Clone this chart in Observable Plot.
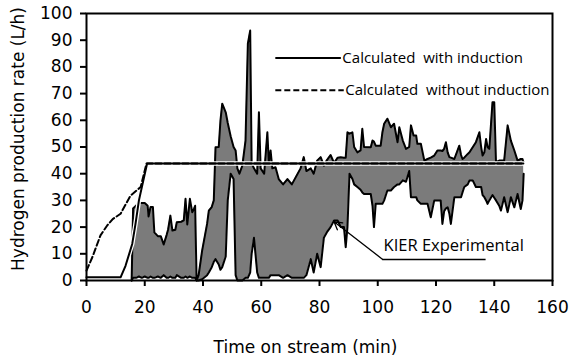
<!DOCTYPE html>
<html>
<head>
<meta charset="utf-8">
<script src="https://cdn.jsdelivr.net/npm/d3@7"></script>
<script src="https://cdn.jsdelivr.net/npm/@observablehq/plot@0.6"></script>
<style>
  html, body { margin: 0; padding: 0; background: white; }
</style>
</head>
<body>
<div id="chart"></div>
<script>
// ---- Data ----
const xTicks = [0, 20, 40, 60, 80, 100, 120, 140, 160];
const yTicks = [0, 10, 20, 30, 40, 50, 60, 70, 80, 90, 100];

// Calculated with induction (solid)
const withTime = [0, 11.7, 13.4, 15.7, 16.8, 18.0, 20.8, 150];
const withRate = [1.2, 1.2, 5.5, 13.7, 21, 30, 43.8, 43.8];

// Calculated without induction (dashed)
const withoutTime = [0, 2, 4.8, 7.1, 9, 11.7, 15.1, 18.6, 20.6, 150];
const withoutRate = [3.7, 8.7, 16.9, 20.6, 23, 25, 31.8, 35, 43.8, 43.8];

// KIER experimental: envelope of the fluctuating signal
const expTime = [15.5, 16.0, 17, 18, 19, 20, 21, 21.3, 22, 22.8, 23.3, 24.5, 25.5, 26.5, 27.5, 28, 28.8, 29.5, 30.5, 31, 32.5, 33.4, 34, 34.6, 35.5, 36.3, 36.9, 37.3, 37.8,
  38.5, 39.7, 41.4, 42, 43, 43.7, 44.3, 45.4, 46.0, 46.6, 47.8, 48.5, 49.5, 50.5, 51.2, 51.8, 52.5, 53.5, 54.6, 55.4, 56.2, 56.7, 57.5, 58.6, 59.2, 59.8, 61, 62.1, 62.6, 63.2, 63.8,
  64.9, 66, 67.5, 69, 70.5, 72, 73.5, 74.6, 75.5, 77, 78, 79.2, 80.4, 81.5, 82.5, 83.8, 85, 86.2, 87.3, 88.4, 89, 89.6, 90.3, 91.3, 91.9, 93, 94.1, 94.7, 95.3, 97.6,
  98.2, 98.7, 99.3, 101, 101.6, 102.2, 103.3, 104.5, 105.6, 106.8, 107.4, 108.6, 109.7, 110.8, 111.4, 112.3, 113.2, 113.6, 114.8, 116, 117.1, 118.2, 119.4, 120.5, 121.6,
  122.2, 122.8, 123.4, 124, 124.6, 125.1, 126.3, 128, 128.6, 129.1, 129.7, 130.9, 131.5, 132.6, 133.7, 134.9, 135.5, 136, 136.6, 137.2, 137.7, 138.3, 139.4, 140, 140.6,
  141.7, 142.3, 143.4, 144.6, 145.7, 146.9, 148, 149.1, 149.7, 150.1];
const expLower = [0, 1, 1, 1.5, 1, 1.5, 1, 1, 1.5, 1, 1, 1.5, 1, 2, 1, 1, 1.5, 1, 1, 2, 1, 1, 1.5, 1, 1.5, 1, 1, 1, 0,
  0, 0.5, 2, 3, 5, 7, 8, 6, 4, 5, 9, 30, 40, 38, 2, 0, 0, 0, 1, 1, 3, 10, 16, 3, 1, 1, 1, 1, 1, 2, 2,
  2, 2, 1, 2, 1, 1, 1, 1, 2, 8, 3, 10, 5, 16, 18, 20, 22.5, 22.5, 20, 20, 12.5, 20, 40, 38, 36, 35, 34, 33, 32.4, 32.4,
  28, 20, 28.7, 28.7, 28.7, 30, 33.7, 33.7, 35, 36, 36, 37.5, 37, 41, 31.2, 31.2, 31.2, 30, 28.7, 28.7, 28.7, 23.7, 30, 30, 30,
  21.2, 26, 27, 27.4, 25, 21.2, 31.2, 31.2, 31.2, 33, 35, 36, 37.5, 37.5, 35, 35, 35, 32, 31.2, 30, 28.7, 30, 32, 31, 30,
  28, 26.2, 31.2, 25.6, 31.2, 27.4, 32.4, 26.8, 30, 40];
const expUpper = [0, 27, 28, 29, 29, 29, 28, 24, 27.5, 27.5, 18, 16.6, 16.6, 13.5, 17, 19, 24.3, 18.7, 19, 21.8, 22, 22.5, 30.6, 21, 30.6, 25.6, 26.8, 28, 0,
  2, 11.2, 21.2, 26.2, 27.5, 30, 49.9, 50, 60, 66.2, 63, 59, 54, 50, 48.7, 42, 40, 43, 52.4, 88.7, 93.6, 44, 42, 40, 63, 42, 40, 55.5, 44, 48.7, 42,
  42.4, 38, 36, 38, 36, 39, 42, 46.2, 41, 42, 40, 44.9, 46.2, 43, 45, 47, 44, 46, 46.2, 46, 46, 55.5, 55, 55.5, 50, 48, 48.7, 56.8, 50, 49.9,
  52.4, 52, 50.5, 50.5, 55.5, 58.7, 60.6, 57.4, 58.7, 51.8, 57.4, 52.4, 49.3, 50, 58.1, 54.3, 54.3, 51.2, 51.2, 44.9, 45.5, 46, 46.8, 48.7, 48.7,
  48.5, 49.3, 51.8, 48, 46.2, 46, 45.5, 50.5, 47, 45.5, 46, 47.4, 48, 49.9, 51.8, 55.5, 50, 46.8, 48, 53, 50, 49.3, 66.8, 66.8, 44.3,
  44.9, 44.9, 44.9, 58.1, 52.4, 48.7, 44.9, 45.5, 45.5, 44];

const legendLabels = ["Calculated  with induction", "Calculated  without induction"];
const annotationLabel = "KIER Experimental";
const xLabel = "Time on stream (min)";
const yLabel = "Hydrogen production rate (L/h)";

// ---- Tables built from the arrays ----
const expData = expTime.map((t, i) => ({t, lo: expLower[i], hi: expUpper[i]}));
const withData = withTime.map((t, i) => ({t, v: withRate[i]}));
const withoutData = withoutTime.map((t, i) => ({t, v: withoutRate[i]}));

const legendSolid = [{label: legendLabels[0], y: 83.3}];
const legendDashed = [{label: legendLabels[1], y: 71.3}];

const chart = Plot.plot({
  width: 569,
  height: 360,
  marginLeft: 86,
  marginRight: 17,
  marginTop: 13,
  marginBottom: 80,
  style: {fontFamily: "DejaVu Sans", fontSize: "17px", background: "white", color: "black"},
  x: {domain: [0, 160]},
  y: {domain: [0, 100]},
  marks: [
    // experimental band
    Plot.areaY(expData, {x: "t", y1: "lo", y2: "hi", fill: "#7b7b7b"}),
    Plot.line(expData, {x: "t", y: "hi", stroke: "black", strokeWidth: 2}),
    Plot.line(expData, {x: "t", y: "lo", stroke: "black", strokeWidth: 2}),
    // calculated lines with white halo
    Plot.line(withData, {x: "t", y: "v", stroke: "white", strokeWidth: 4.5}),
    Plot.line(withData, {x: "t", y: "v", stroke: "black", strokeWidth: 2}),
    Plot.line(withoutData, {x: "t", y: "v", stroke: "black", strokeWidth: 2, strokeDasharray: "6,3"}),
    // legend inside plot
    Plot.ruleY(legendSolid, {y: "y", x1: 65, x2: 87.5, stroke: "black", strokeWidth: 2}),
    Plot.ruleY(legendDashed, {y: "y", x1: 65, x2: 88.5, stroke: "black", strokeWidth: 2, strokeDasharray: "6,3"}),
    Plot.text(legendSolid, {x: 87.5, y: "y", text: "label", textAnchor: "start", dx: 1, fontFamily: "Open Sans", fontSize: 15, fill: "black"}),
    Plot.text(legendDashed, {x: 88.5, y: "y", text: "label", textAnchor: "start", dx: 1, fontFamily: "Open Sans", fontSize: 15, fill: "black"}),
    // annotation
    Plot.ruleY([7.9], {x1: 101.7, x2: 137.2, stroke: "black", strokeWidth: 1.5}),
    Plot.arrow([0], {x1: 101.7, y1: 7.9, x2: 85, y2: 22, stroke: "black", strokeWidth: 1.3, headLength: 10, insetEnd: 0}),
    Plot.text([annotationLabel], {x: 102, y: 13, text: d => d, textAnchor: "start", fontFamily: "Open Sans", fontSize: 16.5, fill: "black"}),
    // axes
    Plot.axisX({ticks: xTicks, tickSize: 6, tickPadding: 14, label: null, strokeWidth: 2, fontSize: 17}),
    Plot.axisY({ticks: yTicks, tickSize: 6, tickPadding: 8, label: null, strokeWidth: 2, fontSize: 17}),
    Plot.frame({stroke: "black", strokeWidth: 2}),
    // axis titles
    Plot.text([xLabel], {frameAnchor: "bottom", dy: 67, dx: -14, text: d => d, lineAnchor: "middle", fontSize: 17, fill: "black"}),
    Plot.text([yLabel], {x: 0, y: 53, dx: -68, rotate: -90, text: d => d, lineAnchor: "middle", textAnchor: "middle", fontSize: 17, fill: "black"})
  ]
});

document.getElementById("chart").appendChild(chart);
</script>
</body>
</html>
